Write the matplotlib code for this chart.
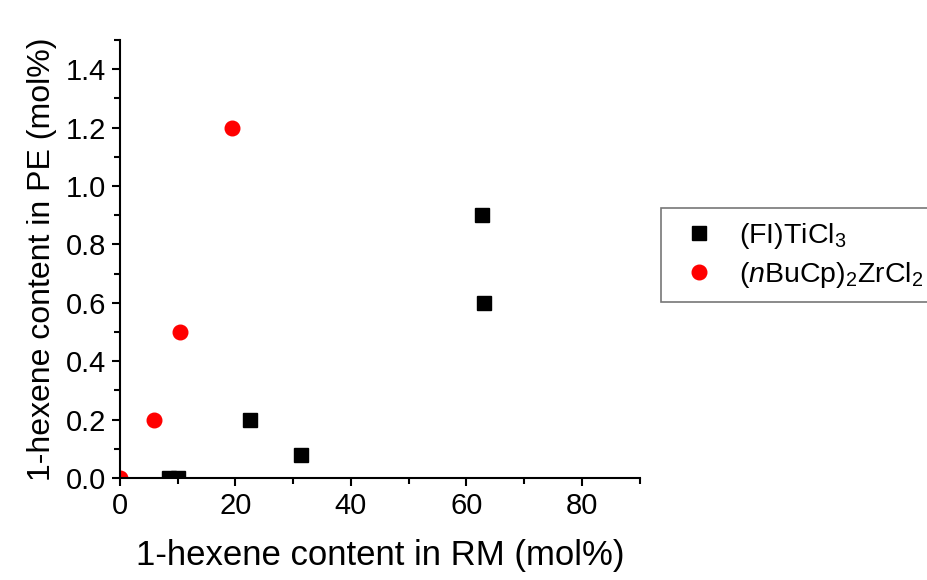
import matplotlib.pyplot as plt
from matplotlib.ticker import MultipleLocator

plt.rcParams["font.family"] = ["Liberation Sans", "DejaVu Sans"]
plt.rcParams["mathtext.fontset"] = "custom"
plt.rcParams["mathtext.rm"] = "Liberation Sans"
plt.rcParams["mathtext.it"] = "Liberation Sans:italic"

# (FI)TiCl3 series
ti_x = [8.5, 10.0, 22.5, 31.3, 62.7, 63.1]
ti_y = [0.0, 0.0, 0.2, 0.08, 0.9, 0.6]

# (nBuCp)2ZrCl2 series
zr_x = [0.0, 5.9, 10.4, 19.4]
zr_y = [0.0, 0.2, 0.5, 1.2]

fig = plt.figure(figsize=(9.27, 5.8), dpi=100)
ax = fig.add_axes([0.1294, 0.1759, 0.5606, 0.7551])

ax.plot(ti_x, ti_y, "s", color="black", markersize=9.5, linestyle="none",
        label="(FI)TiCl$_3$")
ax.plot(zr_x, zr_y, "o", color="red", markersize=10.5, linestyle="none",
        label="($n$BuCp)$_2$ZrCl$_2$")

ax.set_xlim(0, 90)
ax.set_ylim(0, 1.5)
ax.xaxis.set_major_locator(MultipleLocator(20))
ax.xaxis.set_minor_locator(MultipleLocator(10))
ax.yaxis.set_minor_locator(MultipleLocator(0.1))
ax.set_yticks([0.0, 0.2, 0.4, 0.6, 0.8, 1.0, 1.2, 1.4])
ax.yaxis.set_major_formatter(plt.FormatStrFormatter("%.1f"))

for s in ["top", "right"]:
    ax.spines[s].set_visible(False)
for s in ["left", "bottom"]:
    ax.spines[s].set_linewidth(1.5)

ax.tick_params(which="major", direction="out", length=6, width=1.5, labelsize=21, pad=4)
ax.tick_params(which="minor", direction="out", length=4, width=1.5)

ax.set_xlabel("1-hexene content in RM (mol%)", fontsize=25, labelpad=14)
ax.set_ylabel("1-hexene content in PE (mol%)", fontsize=23, labelpad=6)

leg = fig.legend(loc="upper left", bbox_to_anchor=(0.713, 0.641), fontsize=20.5,
                 frameon=True, fancybox=False, edgecolor="#555555",
                 handletextpad=0.5, borderpad=0.45, labelspacing=0.3,
                 handlelength=1.8, borderaxespad=0)
leg.get_frame().set_linewidth(1.2)

fig.savefig("out.png", dpi=100)
